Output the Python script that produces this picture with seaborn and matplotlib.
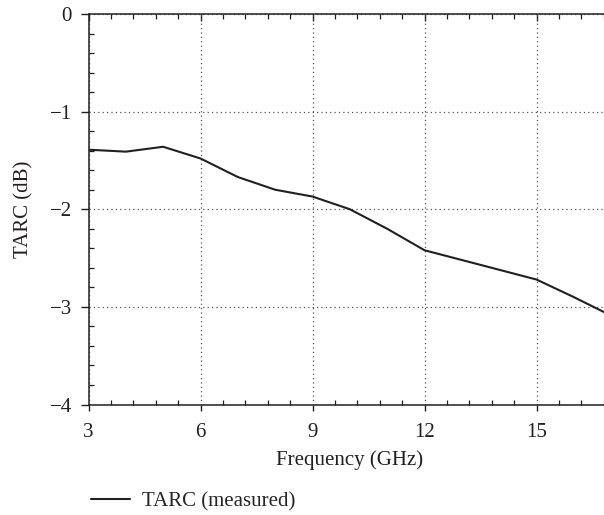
import numpy as np
import pandas as pd
import matplotlib
matplotlib.use("Agg")
import matplotlib.pyplot as plt
from matplotlib.ticker import MultipleLocator
import seaborn as sns

# data
freq = [3, 4, 5, 6, 7, 8, 9, 10, 11, 12, 13, 14, 15, 16, 17]
tarc = [-1.39, -1.41, -1.36, -1.48, -1.67, -1.80, -1.87, -2.00, -2.20,
        -2.42, -2.52, -2.62, -2.72, -2.90, -3.09]
label = "TARC (measured)"

df = pd.DataFrame({"Frequency": freq, "TARC": tarc})

sns.set_style("ticks")
plt.rcParams["font.family"] = ["Liberation Serif", "DejaVu Serif"]

INK = "#231f20"
FS = 15

fig = plt.figure(figsize=(6.04, 5.15), dpi=100)
# axes run slightly past the right edge, as in the cropped original
ax = fig.add_axes([88.5 / 604, (515 - 404.5) / 515, 522.7 / 604, 390.5 / 515])

sns.lineplot(data=df, x="Frequency", y="TARC", ax=ax, color=INK,
             linewidth=1.5, label=label, legend=False)

ax.set_xlim(3, 17)
ax.set_ylim(-4, 0)
ax.xaxis.set_major_locator(MultipleLocator(3))
ax.xaxis.set_minor_locator(MultipleLocator(0.6))
ax.yaxis.set_major_locator(MultipleLocator(1))
ax.yaxis.set_minor_locator(MultipleLocator(0.2))

for s in ["left", "bottom", "top"]:
    ax.spines[s].set_visible(True)
    ax.spines[s].set_linewidth(1.1)
    ax.spines[s].set_color(INK)
ax.spines["right"].set_visible(False)

ax.tick_params(which="major", direction="out", width=1.0,
               color=INK, labelsize=FS, labelcolor=INK,
               top=False, right=False)
ax.tick_params(which="minor", direction="in", length=3.6, width=0.9,
               color=INK, top=True, right=False)
ax.tick_params(axis="x", which="major", length=4.5, pad=9)
ax.tick_params(axis="y", which="major", length=5.8, pad=6)

# top spine ticks pointing inward
sec = ax.secondary_xaxis("top")
sec.xaxis.set_major_locator(MultipleLocator(3))
sec.tick_params(which="major", direction="in", length=5, width=1.0,
                color=INK, labeltop=False)
sec.spines["top"].set_visible(False)

ax.grid(True, which="major", linestyle=(0, (1, 2.5)), linewidth=0.9,
        color="#555555")

ax.set_xlabel("Frequency (GHz)", fontsize=FS, color=INK, labelpad=6)
ax.set_ylabel("TARC (dB)", fontsize=FS, color=INK, labelpad=12)

fig.legend(loc="center left", bbox_to_anchor=(72 / 604, 1 - 502 / 515),
           frameon=False, fontsize=FS, handlelength=1.9,
           handletextpad=0.55)

fig.savefig("out.png", dpi=100)
